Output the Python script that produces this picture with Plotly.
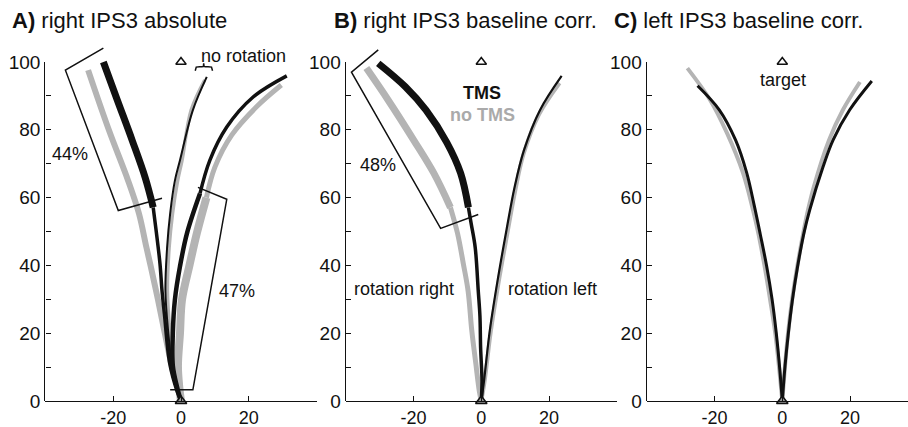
import plotly.graph_objects as go

# ---------------- data ----------------
# Panel A: right IPS3 absolute
A_tms_left_up_x = [-22.9, -18.8, -14.4, -10.6, -8.2]
A_tms_left_up_y = [100, 88.8, 76.9, 66, 57.1]
A_tms_left_lo_x = [-8.2, -7.3, -6.2, -5.6, -4.9, -3.3, -1.2, 0]
A_tms_left_lo_y = [57.1, 50.0, 40.5, 32.5, 25.7, 10.9, 3, 0]
A_no_left_x = [-27.4, -21.3, -15.6, -12.4, -10.2, -8.9, -6.8, -4.8, -2.7, -0.6, 0]
A_no_left_y = [97.6, 80, 65, 55.3, 45.3, 39.6, 29.9, 20.1, 10.3, 2.5, 0]
A_norot_tms_x = [7.6, 3.5, -0.3, -1.8, -3.2, -4.1, -4.6, -3.8, -2.4, 0]
A_norot_tms_y = [95.6, 85.8, 71, 65, 55.3, 45.3, 32.5, 20.7, 8.9, 0]
A_norot_no_x = [7.0, 3.0, 0.3, -1.0, -2.5, -3.5, -4.0, -3.3, -2.0, 0]
A_norot_no_y = [94.7, 85.8, 71, 65, 55.3, 45.3, 32.5, 20.7, 8.9, 0]
A_tms_right_up_x = [31.2, 21.2, 13.5, 8.5, 5.6]
A_tms_right_up_y = [95.9, 89.6, 80.8, 71, 61.2]
A_tms_right_lo_x = [5.6, 1.8, -0.3, -1.8, -2.4, -2.4, -1.2, 0]
A_tms_right_lo_y = [61.2, 49.6, 39.7, 29.9, 20.2, 10.3, 4.3, 0]
A_no_right_up_x = [29.6, 22.5, 15, 10, 7.5]
A_no_right_up_y = [93.2, 87, 78.5, 69, 60]
A_no_right_lo_x = [7.5, 4.7, 2.5, 0.3, -0.3, -0.9, -0.5, 0]
A_no_right_lo_y = [60, 49.6, 40, 29.9, 20, 10.3, 4, 0]
A_box_left_x = [-22.9, -34.1, -18.5, -5.6]
A_box_left_y = [104.1, 97.6, 56.2, 59.8]
A_box_right_x = [5, 13.5, 3.5, -3.2]
A_box_right_y = [63, 59.5, 3.3, 3.3]

# Panel B: right IPS3 baseline corr.
B_tms_left_up_x = [-30.4, -22.4, -16.3, -10.2, -6.1, -3.8]
B_tms_left_up_y = [99.6, 92.7, 85.8, 76.3, 67.2, 57.1]
B_tms_left_lo_x = [-3.8, -3.0, -1.8, -0.9, -0.4, -0.2, 0.2, 0]
B_tms_left_lo_y = [57.1, 52.4, 45.3, 32.5, 25, 15.7, 5.9, 0]
B_no_left_up_x = [-33.9, -27.5, -19.9, -14, -9.1]
B_no_left_up_y = [98.2, 88.8, 76.9, 67.2, 57.1]
B_no_left_lo_x = [-9.1, -7, -5.3, -3.9, -2.8, -1.6, -0.6, 0]
B_no_left_lo_y = [57.1, 49.4, 40.5, 32.5, 20.7, 10.9, 3, 0]
B_tms_right_x = [23.7, 17.3, 12.6, 9.8, 7.4, 4.8, 2.5, 0.8, 0]
B_tms_right_y = [95.9, 85.8, 74, 63, 50.3, 35.5, 20.7, 5.9, 0]
B_no_right_x = [23.1, 17, 12.5, 10.0, 7.7, 5.1, 2.8, 1.0, 0]
B_no_right_y = [93.8, 84.5, 73, 62, 49.5, 35, 20.5, 6, 0]
B_box_x = [-30.4, -38.3, -12, -0.9]
B_box_y = [103.6, 97, 50.9, 55]

# Panel C: left IPS3 baseline corr.
C_tms_left_x = [-25, -18.6, -13.8, -10.5, -8.3, -6.5, -4.6, -3.0, -1.8, -0.8, 0]
C_tms_left_y = [93, 85.9, 77, 67.3, 57.8, 49.2, 39.7, 29.9, 20.2, 10, 0]
C_no_left_x = [-28, -21.3, -16.3, -11.6, -8.8, -7.1, -5.2, -3.6, -2.1, -1.0, 0]
C_no_left_y = [98.2, 88.8, 79, 67.3, 57, 49.6, 39.6, 29.9, 20.1, 10.3, 0]
C_tms_right_x = [26.4, 19.9, 15, 12, 8.1, 6.4, 4.5, 3.0, 1.8, 0.8, 0]
C_tms_right_y = [94.4, 85.9, 77, 69, 56.4, 49.6, 39.6, 29.9, 20.1, 10.3, 0]
C_no_right_x = [22.9, 17.9, 13.8, 9.3, 7.6, 6.2, 4.4, 2.9, 1.7, 0.8, 0]
C_no_right_y = [94.1, 85.9, 77, 63.2, 56.4, 49.6, 39.6, 29.9, 20.1, 10.3, 0]

target_x, target_y = [0], [100]
start_x, start_y = [0], [0]

brace_x = [4.2, 4.5, 5.5, 6.2, 6.6, 6.7, 6.8, 7.2, 8.0, 9.0, 9.3]
brace_y = [97.4, 98.5, 98.6, 98.6, 98.7, 99.6, 98.7, 98.6, 98.6, 98.5, 97.4]

x_tickvals = [-40, -20, 0, 20, 40]
x_ticktext = ["", "-20", "0", "20", ""]
y_tickvals = [0, 10, 20, 30, 40, 50, 60, 70, 80, 90, 100]
y_ticktext = ["0", "", "20", "", "40", "", "60", "", "80", "", "100"]

titles = ["<b>A)</b> right IPS3 absolute", "<b>B)</b> right IPS3 baseline corr.",
          "<b>C)</b> left IPS3 baseline corr."]

# ---------------- styling ----------------
BLACK = "#111111"
GRAY = "#b4b4b4"
FONT = "Liberation Sans, Arial, sans-serif"
W, H = 908, 427

fig = go.Figure()


def line(x, y, color, width, ax, shape="spline"):
    fig.add_trace(go.Scatter(x=x, y=y, mode="lines", line=dict(color=color, width=width, shape=shape),
                             xaxis="x" + ax, yaxis="y" + ax, hoverinfo="skip", showlegend=False))


def poly(x, y, ax):
    fig.add_trace(go.Scatter(x=x, y=y, mode="lines", line=dict(color=BLACK, width=1.5),
                             xaxis="x" + ax, yaxis="y" + ax, hoverinfo="skip", showlegend=False))


def triangles(ax):
    fig.add_trace(go.Scatter(x=target_x, y=target_y, mode="markers", cliponaxis=False,
                             marker=dict(symbol="triangle-up", size=9, color="white",
                                         line=dict(color=BLACK, width=1.5)),
                             xaxis="x" + ax, yaxis="y" + ax, hoverinfo="skip", showlegend=False))
    fig.add_trace(go.Scatter(x=start_x, y=start_y, mode="markers", cliponaxis=False,
                             marker=dict(symbol="triangle-up", size=10, color="#9a9a9a",
                                         line=dict(color=BLACK, width=1.5)),
                             xaxis="x" + ax, yaxis="y" + ax, hoverinfo="skip", showlegend=False))


# Panel A
line(A_no_left_x, A_no_left_y, GRAY, 6, "")
line(A_norot_no_x, A_norot_no_y, GRAY, 3.5, "")
line(A_no_right_up_x, A_no_right_up_y, GRAY, 5, "")
line(A_no_right_lo_x, A_no_right_lo_y, GRAY, 8, "")
line(A_tms_left_up_x, A_tms_left_up_y, BLACK, 7, "")
line(A_tms_left_lo_x, A_tms_left_lo_y, BLACK, 3.5, "")
line(A_norot_tms_x, A_norot_tms_y, BLACK, 2, "")
line(A_tms_right_up_x, A_tms_right_up_y, BLACK, 3.5, "")
line(A_tms_right_lo_x, A_tms_right_lo_y, BLACK, 4.5, "")
poly(A_box_left_x, A_box_left_y, "")
poly(A_box_right_x, A_box_right_y, "")
triangles("")

# Panel B
line(B_no_left_up_x, B_no_left_up_y, GRAY, 7, "2")
line(B_no_left_lo_x, B_no_left_lo_y, GRAY, 5, "2")
line(B_no_right_x, B_no_right_y, GRAY, 4, "2")
line(B_tms_left_up_x, B_tms_left_up_y, BLACK, 7, "2")
line(B_tms_left_lo_x, B_tms_left_lo_y, BLACK, 3.5, "2")
line(B_tms_right_x, B_tms_right_y, BLACK, 2.2, "2")
poly(B_box_x, B_box_y, "2")
triangles("2")

# Panel C
line(C_no_left_x, C_no_left_y, GRAY, 4, "3")
line(C_no_right_x, C_no_right_y, GRAY, 4, "3")
line(C_tms_left_x, C_tms_left_y, BLACK, 3, "3")
line(C_tms_right_x, C_tms_right_y, BLACK, 3, "3")
triangles("3")

# brace above "no rotation"
brace_path = "M " + " L ".join(f"{x},{y}" for x, y in zip(brace_x, brace_y))
fig.add_shape(type="path", path=brace_path, xref="x", yref="y",
              line=dict(color=BLACK, width=1.5))

# ---------------- axes ----------------
y0px, y100px = 401.0, 62.0
ydom0 = 1 - y0px / H
ppu = (y0px - y100px) / 100.0
ytop = 106
ydom_hidden = [ydom0, 1 - (y0px - ytop * ppu) / H]
ydom_axis = [ydom0, 1 - y100px / H]

panels = [
    ("", 181.0),
    ("2", 481.3),
    ("3", 782.3),
]
layout = {}
for i, (ax, x0px) in enumerate(panels):
    left_px = x0px - 40 * ppu
    right_px = min(x0px + 40 * ppu, W)
    xr = [-40, (right_px - x0px) / ppu]
    idx = i + 1
    xname = "xaxis" if idx == 1 else f"xaxis{idx}"
    yname = "yaxis" if idx == 1 else f"yaxis{idx}"
    yvis = f"yaxis{idx + 3}"
    layout[xname] = dict(domain=[left_px / W, right_px / W], range=xr, anchor="y" + ax,
                         showline=True, linecolor=BLACK, linewidth=1.3, ticks="inside",
                         ticklen=5, tickwidth=1.3, tickcolor=BLACK, tickvals=x_tickvals,
                         ticktext=x_ticktext, showgrid=False, zeroline=False, automargin=False,
                         tickfont=dict(size=18, color=BLACK, family=FONT), fixedrange=True)
    layout[yname] = dict(domain=ydom_hidden, range=[0, ytop], anchor="x" + ax, visible=False,
                         showgrid=False, zeroline=False, fixedrange=True, automargin=False)
    layout[yvis] = dict(domain=ydom_axis, range=[0, 100], anchor="x" + ax, showline=True,
                        linecolor=BLACK, linewidth=1.3, ticks="inside", ticklen=5, tickwidth=1.3,
                        tickcolor=BLACK, tickvals=y_tickvals, ticktext=y_ticktext,
                        showgrid=False, zeroline=False, automargin=False,
                        tickfont=dict(size=19, color=BLACK, family=FONT), fixedrange=True)
    fig.add_trace(go.Scatter(x=[None], y=[None], xaxis="x" + ax, yaxis=f"y{idx + 3}",
                             showlegend=False, hoverinfo="skip"))

title_px = [10, 332, 612]
annotations = []
for t, px in zip(titles, title_px):
    annotations.append(dict(text=t, x=px / W, y=1 - 20 / H, xref="paper", yref="paper",
                            xanchor="left", yanchor="middle", showarrow=False,
                            font=dict(size=22, color=BLACK, family=FONT)))


def label(text, x, y, ax, color=BLACK, size=18):
    annotations.append(dict(text=text, x=x, y=y, xref="x" + ax, yref="y" + ax,
                            showarrow=False, xanchor="center", yanchor="middle",
                            font=dict(size=size, color=color, family=FONT)))


label("44%", -32.6, 73, "")
label("47%", 16.5, 32.5, "")
label("no rotation", 18.3, 101.8, "")
label("48%", -30.4, 69.5, "2")
label("<b>TMS</b>", 0.3, 90.8, "2")
label("<b>no TMS</b>", 0.3, 84.3, "2", color="#aaaaaa")
label("rotation right", -22.8, 33.1, "2")
label("rotation left", 21, 33.1, "2")
label("target", 0.2, 94.6, "3")

fig.update_layout(width=W, height=H, margin=dict(l=0, r=0, t=0, b=0, pad=0, autoexpand=False),
                  paper_bgcolor="white", plot_bgcolor="rgba(0,0,0,0)",
                  annotations=annotations, showlegend=False, **layout)

fig.write_html("out.html", config={"responsive": False, "displayModeBar": False},
               post_script="document.body.style.margin='0';document.body.style.overflow='hidden';")
